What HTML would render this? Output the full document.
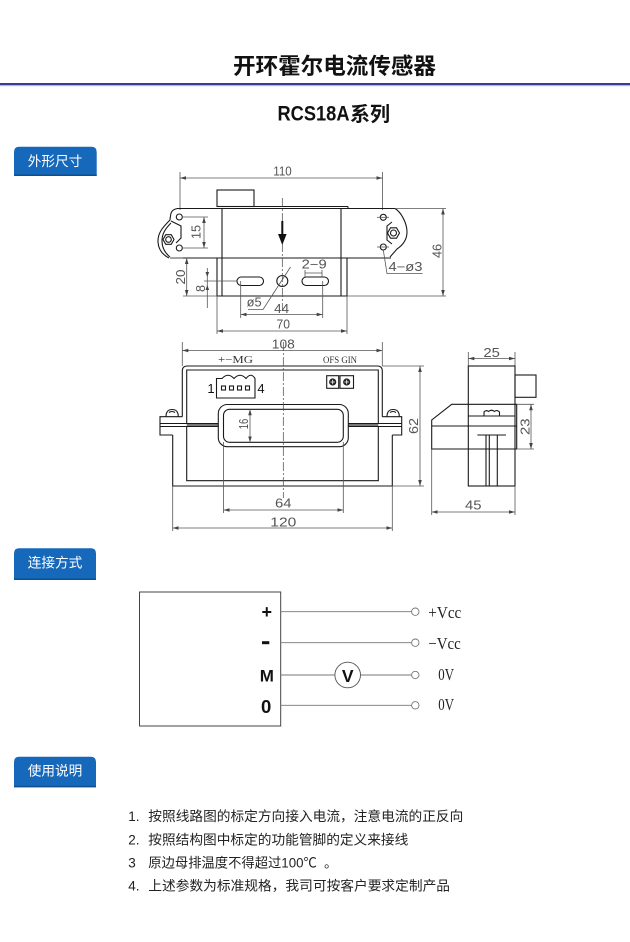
<!DOCTYPE html>
<html><head><meta charset="utf-8">
<style>
html,body{margin:0;padding:0;background:#fff;}
body{width:630px;height:942px;overflow:hidden;}
svg{display:block;}
.o{fill:none;stroke:#1a1a1a;stroke-width:1.1;}
.d{fill:none;stroke:#555;stroke-width:0.8;}
.da{fill:none;stroke:#555;stroke-width:0.8;marker-start:url(#ar);marker-end:url(#ar);}
.dt{font-family:"Liberation Sans",sans-serif;font-size:12.5px;fill:#555;}
.c{fill:none;stroke:#444;stroke-width:0.7;stroke-dasharray:9 2 2 2;}
.cj{font-family:"Liberation Sans","Noto Sans CJK SC",sans-serif;}
</style></head>
<body>
<svg width="630" height="942" viewBox="0 0 630 942" xmlns="http://www.w3.org/2000/svg">
<defs>
<marker id="ar" viewBox="0 0 10 10" refX="10" refY="5" markerUnits="userSpaceOnUse" markerWidth="6" markerHeight="6" orient="auto-start-reverse">
<path d="M0,2 L10,5 L0,8 z" fill="#444"/>
</marker>
</defs>

<!-- Header -->
<text x="233" y="74" class="cj" font-size="22.5" font-weight="bold" fill="#111" textLength="203" lengthAdjust="spacingAndGlyphs">开环霍尔电流传感器</text>
<rect x="0" y="83" width="630" height="2.2" fill="#383d96"/>
<rect x="0" y="85.2" width="630" height="1" fill="#b8badb"/>
<text x="277.5" y="120.5" font-family="Liberation Sans,sans-serif" font-size="21" font-weight="bold" fill="#111" textLength="72" lengthAdjust="spacingAndGlyphs">RCS18A</text>
<text x="350" y="121" class="cj" font-size="20" font-weight="bold" fill="#111" textLength="40" lengthAdjust="spacingAndGlyphs">系列</text>

<!-- Tabs -->
<path d="M14 176 V152 Q14 146.7 19 146.7 H91.7 Q96.7 146.7 96.7 152 V176 Z" fill="#1668ba"/>
<rect x="14" y="174.5" width="82.7" height="1.5" fill="#0f4f8e"/>
<text x="55" y="166" class="cj" font-size="13.7" fill="#fff" text-anchor="middle" textLength="54.6" lengthAdjust="spacingAndGlyphs">外形尺寸</text>

<path d="M14 580 V553.5 Q14 548.3 19 548.3 H91 Q96 548.3 96 553.5 V580 Z" fill="#1668ba"/>
<rect x="14" y="578.5" width="82" height="1.5" fill="#0f4f8e"/>
<text x="55" y="567.5" class="cj" font-size="13.7" fill="#fff" text-anchor="middle" textLength="54.6" lengthAdjust="spacingAndGlyphs">连接方式</text>

<path d="M14 787.3 V762 Q14 756.7 19 756.7 H91 Q96 756.7 96 762 V787.3 Z" fill="#1668ba"/>
<rect x="14" y="785.8" width="82" height="1.5" fill="#0f4f8e"/>
<text x="55" y="775.5" class="cj" font-size="13.7" fill="#fff" text-anchor="middle" textLength="54.6" lengthAdjust="spacingAndGlyphs">使用说明</text>

<!-- ============ TOP VIEW ============ -->
<!-- 110 dim -->
<line x1="180" y1="172" x2="180" y2="210" class="d"/>
<line x1="382.5" y1="172" x2="382.5" y2="210" class="d"/>
<line x1="180" y1="178" x2="382.5" y2="178" class="da"/>
<text x="282.5" y="175.5" class="dt" text-anchor="middle" textLength="18.5" lengthAdjust="spacingAndGlyphs">110</text>

<!-- connector box top -->
<rect x="217" y="190" width="37" height="16.5" class="o"/>
<line x1="217" y1="206.5" x2="348" y2="206.5" class="o"/>
<line x1="348" y1="206.5" x2="348" y2="208.5" class="o"/>
<line x1="177" y1="208.5" x2="395" y2="208.5" class="o"/>
<!-- body -->
<line x1="222" y1="208.5" x2="222" y2="296" class="o"/>
<line x1="341" y1="208.5" x2="341" y2="296" class="o"/>
<line x1="170" y1="258" x2="391" y2="258" class="o"/>
<line x1="217" y1="258" x2="217" y2="296" class="o"/>
<line x1="347" y1="258" x2="347" y2="296" class="o"/>
<line x1="217" y1="296" x2="347" y2="296" class="o"/>

<!-- left ear -->
<path d="M178 208.5 Q171 209 170.5 216 Q170 219 170 220 C163 227 157.5 233 158 242 C158.5 250 163 255 169 258" class="o"/>
<path d="M171 223 C165 229 162 234 162 241 C162 248 165 253 170 257" class="o" stroke-width="0.8"/>
<path d="M171 221 L181 226 L181 238 L176 243" class="o" stroke-width="0.9"/>
<circle cx="179.3" cy="217" r="3" class="o"/>
<circle cx="179.3" cy="248" r="3" class="o"/>
<polygon points="174,239.5 171.25,244.3 165.75,244.3 163,239.5 165.75,234.7 171.25,234.7" class="o"/>
<circle cx="168.5" cy="239.5" r="2.8" class="o"/>

<!-- right ear -->
<path d="M395 208.5 C401 212 407 223 407 232 C407 240 403 245 397 249 L390 257" class="o"/>
<path d="M392 222 L387 226 L387 240 L392 244" class="o" stroke-width="0.9"/>
<circle cx="383.3" cy="217.3" r="3" class="o"/>
<circle cx="383.3" cy="247" r="3" class="o"/>
<line x1="377" y1="217.3" x2="389" y2="217.3" class="d"/>
<line x1="377" y1="247" x2="389" y2="247" class="d"/>
<polygon points="399.5,233 396.5,238.2 390.5,238.2 387.5,233 390.5,227.8 396.5,227.8" class="o"/>
<circle cx="393.5" cy="233" r="3" class="o"/>

<!-- 46 dim -->
<line x1="395" y1="208.5" x2="446" y2="208.5" class="d"/>
<line x1="347" y1="296" x2="446" y2="296" class="d"/>
<line x1="443" y1="208.5" x2="443" y2="296" class="da"/>
<text x="441.5" y="251" class="dt" text-anchor="middle" transform="rotate(-90 441.5 251)" textLength="14" lengthAdjust="spacingAndGlyphs">46</text>

<!-- 15 dim -->
<line x1="182" y1="217" x2="208" y2="217" class="d"/>
<line x1="182" y1="248" x2="208" y2="248" class="d"/>
<line x1="204" y1="217" x2="204" y2="248" class="da"/>
<text x="200.5" y="232" class="dt" text-anchor="middle" transform="rotate(-90 200.5 232)" textLength="14" lengthAdjust="spacingAndGlyphs">15</text>

<!-- 20 dim -->
<line x1="183" y1="296" x2="217" y2="296" class="d"/>
<line x1="183" y1="258" x2="170" y2="258" class="d"/>
<line x1="186.7" y1="258" x2="186.7" y2="296" class="da"/>
<text x="185" y="277" class="dt" text-anchor="middle" transform="rotate(-90 185 277)" textLength="15" lengthAdjust="spacingAndGlyphs">20</text>

<!-- 8 dim -->
<line x1="204" y1="281" x2="237" y2="281" class="d"/>
<line x1="207.3" y1="268" x2="207.3" y2="308" class="d"/>
<path d="M205.5 272 L207.3 277 L209.1 272 Z M205.5 290 L207.3 285 L209.1 290 Z" fill="#444"/>
<text x="205" y="288.5" class="dt" text-anchor="middle" transform="rotate(-90 205 288.5)" textLength="7" lengthAdjust="spacingAndGlyphs">8</text>

<!-- slots and hole -->
<rect x="237" y="277" width="26.5" height="8.5" rx="4.2" class="o"/>
<rect x="302" y="277" width="26.5" height="8.5" rx="4.2" class="o"/>
<circle cx="282.3" cy="281" r="5.5" class="o"/>
<line x1="282.3" y1="198" x2="282.3" y2="310" class="c"/>
<!-- arrow -->
<line x1="282.3" y1="221" x2="282.3" y2="236" stroke="#111" stroke-width="2"/>
<path d="M278 234 L286.6 234 L282.3 245 Z" fill="#111"/>

<!-- 2-9 -->
<text x="301.7" y="268.3" class="dt" textLength="25" lengthAdjust="spacingAndGlyphs">2−9</text>
<line x1="305" y1="273" x2="322" y2="273" class="d"/>
<line x1="305" y1="270" x2="305" y2="277" class="d"/>
<line x1="322" y1="270" x2="322" y2="277" class="d"/>

<!-- phi5 -->
<text x="246.7" y="306.7" class="dt" textLength="15" lengthAdjust="spacingAndGlyphs">ø5</text>
<path d="M248 309.5 L263 309.5 L290.5 267" class="d"/>

<!-- 44 -->
<line x1="240.7" y1="281" x2="240.7" y2="318" class="d"/>
<line x1="322.7" y1="281" x2="322.7" y2="318" class="d"/>
<line x1="240.7" y1="314.5" x2="322.7" y2="314.5" class="da"/>
<text x="281.7" y="313" class="dt" text-anchor="middle" textLength="15" lengthAdjust="spacingAndGlyphs">44</text>

<!-- 70 -->
<line x1="217" y1="296" x2="217" y2="334" class="d"/>
<line x1="347" y1="296" x2="347" y2="334" class="d"/>
<line x1="217" y1="331" x2="347" y2="331" class="da"/>
<text x="283.3" y="328.3" class="dt" text-anchor="middle" textLength="13.5" lengthAdjust="spacingAndGlyphs">70</text>

<!-- 4-phi3 -->
<text x="388.5" y="271" class="dt" textLength="34" lengthAdjust="spacingAndGlyphs">4−ø3</text>
<path d="M383.3 250 L387 273.5 L422.7 273.5" class="d"/>

<!-- ============ FRONT VIEW ============ -->
<line x1="182.3" y1="342" x2="182.3" y2="366" class="d"/>
<line x1="382.3" y1="342" x2="382.3" y2="366" class="d"/>
<line x1="182.3" y1="350.5" x2="382.3" y2="350.5" class="da"/>
<text x="283.3" y="348.5" class="dt" text-anchor="middle" textLength="23" lengthAdjust="spacingAndGlyphs">108</text>

<text x="218" y="363" font-family="Liberation Serif,serif" font-size="11" fill="#333" textLength="35" lengthAdjust="spacingAndGlyphs">+−MG</text>
<text x="323" y="363" font-family="Liberation Serif,serif" font-size="9" fill="#333" textLength="34" lengthAdjust="spacingAndGlyphs">OFS GIN</text>

<!-- upper body -->
<path d="M182.3 416.7 V371 Q182.3 366 187.3 366 H377.3 Q382.3 366 382.3 371 V416.7" class="o"/>
<path d="M186.7 423.5 V370 H378.3 V423.5" class="o"/>
<!-- flanges -->
<path d="M182.3 416.7 H160 V435 H172.7" class="o"/>
<path d="M382.3 416.7 H401.7 V435 H392.3" class="o"/>
<rect x="186.7" y="423.5" width="31.6" height="3" fill="#777"/>
<rect x="348.3" y="423.5" width="30" height="3" fill="#777"/>
<line x1="160" y1="423.5" x2="218.3" y2="423.5" class="o" stroke-width="0.8"/>
<line x1="160" y1="426.5" x2="218.3" y2="426.5" class="o" stroke-width="0.8"/>
<line x1="348.3" y1="423.5" x2="401.7" y2="423.5" class="o" stroke-width="0.8"/>
<line x1="348.3" y1="426.5" x2="401.7" y2="426.5" class="o" stroke-width="0.8"/>
<!-- screws -->
<path d="M166 416.7 Q166 409.5 172.2 409.5 Q178.3 409.5 178.3 416.7" class="o"/>
<path d="M169 412.5 Q172 410.5 175 412.5" class="o" stroke-width="0.7"/>
<path d="M387 416.7 Q387 409.5 393.2 409.5 Q399.3 409.5 399.3 416.7" class="o"/>
<path d="M390 412.5 Q393 410.5 396 412.5" class="o" stroke-width="0.7"/>
<!-- lower body -->
<path d="M172.7 435 V486 H392.3 V435" class="o"/>
<path d="M186.7 426.5 V480.7 H378.3 V426.5" class="o"/>
<!-- window -->
<rect x="218.3" y="404.5" width="130" height="42.2" rx="9" class="o"/>
<rect x="223.5" y="409.3" width="119.8" height="33" rx="6" class="o"/>
<!-- connector -->
<path d="M216.5 398 V378.5 H222 Q228 372 234 378.5 Q240 372 246 378.5 Q251 372 255 378.5 V398 Z" class="o"/>
<rect x="221.5" y="386" width="4" height="4" class="o" stroke-width="0.8"/>
<rect x="229.5" y="386" width="4" height="4" class="o" stroke-width="0.8"/>
<rect x="237.5" y="386" width="4" height="4" class="o" stroke-width="0.8"/>
<rect x="245.5" y="386" width="4" height="4" class="o" stroke-width="0.8"/>
<text x="211" y="393" font-family="Liberation Sans,sans-serif" font-size="13" fill="#111" text-anchor="middle">1</text>
<text x="261" y="393" font-family="Liberation Sans,sans-serif" font-size="13" fill="#111" text-anchor="middle">4</text>
<!-- pots -->
<rect x="326.7" y="375.7" width="12" height="12.6" class="o"/>
<rect x="340" y="375.7" width="13.5" height="12.6" class="o"/>
<circle cx="332.7" cy="382" r="3.6" fill="#222"/>
<circle cx="346.7" cy="382" r="3.6" fill="#222"/>
<path d="M330.5 382 H334.9 M332.7 379.8 V384.2 M344.5 382 H348.9 M346.7 379.8 V384.2" stroke="#fff" stroke-width="0.8"/>
<!-- centerline -->
<line x1="283.3" y1="342" x2="283.3" y2="498" class="c"/>

<!-- 16 -->
<line x1="250" y1="409.3" x2="250" y2="442.3" class="da"/>
<text x="248" y="424" class="dt" text-anchor="middle" transform="rotate(-90 248 424)" textLength="10.5" lengthAdjust="spacingAndGlyphs">16</text>

<!-- 62 -->
<line x1="382.3" y1="366" x2="424" y2="366" class="d"/>
<line x1="392.3" y1="486" x2="424" y2="486" class="d"/>
<line x1="420" y1="366" x2="420" y2="486" class="da"/>
<text x="418" y="426" class="dt" text-anchor="middle" transform="rotate(-90 418 426)" textLength="16" lengthAdjust="spacingAndGlyphs">62</text>

<!-- 64 -->
<line x1="223.5" y1="442" x2="223.5" y2="513" class="d"/>
<line x1="343.3" y1="442" x2="343.3" y2="513" class="d"/>
<line x1="223.5" y1="510" x2="343.3" y2="510" class="da"/>
<text x="283.3" y="507.5" class="dt" text-anchor="middle" textLength="16.5" lengthAdjust="spacingAndGlyphs">64</text>

<!-- 120 -->
<line x1="172.7" y1="486" x2="172.7" y2="531" class="d"/>
<line x1="392.3" y1="486" x2="392.3" y2="531" class="d"/>
<line x1="172.7" y1="528" x2="392.3" y2="528" class="da"/>
<text x="283.3" y="526.5" class="dt" text-anchor="middle" textLength="26" lengthAdjust="spacingAndGlyphs">120</text>

<!-- ============ SIDE VIEW ============ -->
<line x1="468.3" y1="352" x2="468.3" y2="366" class="d"/>
<line x1="515" y1="352" x2="515" y2="366" class="d"/>
<line x1="468.3" y1="358.5" x2="515" y2="358.5" class="da"/>
<text x="491.7" y="357" class="dt" text-anchor="middle" textLength="16.5" lengthAdjust="spacingAndGlyphs">25</text>

<rect x="468.3" y="366" width="46.7" height="120" class="o"/>
<rect x="515" y="375" width="21" height="22.3" class="o"/>
<path d="M431.7 449 V420 L451.7 404.3 H516.7 V449 Z" class="o"/>
<line x1="431.7" y1="426" x2="516.7" y2="426" class="o"/>
<line x1="468.3" y1="416" x2="515" y2="416" class="o"/>
<path d="M484 416 V412 Q486 409.5 488.5 411.5 Q491.5 409 494.5 411.5 Q497 409.5 499.5 412 V416" class="o" stroke-width="0.9"/>
<line x1="477.3" y1="435" x2="506" y2="435" class="o"/>
<line x1="486" y1="435" x2="486" y2="486" class="o"/>
<line x1="489.3" y1="435" x2="489.3" y2="486" class="o" stroke-width="0.6"/>
<line x1="497.3" y1="435" x2="497.3" y2="486" class="o"/>

<!-- 23 -->
<line x1="516.7" y1="404.3" x2="534" y2="404.3" class="d"/>
<line x1="516.7" y1="449" x2="534" y2="449" class="d"/>
<line x1="531" y1="404.3" x2="531" y2="449" class="da"/>
<text x="529.5" y="426.7" class="dt" text-anchor="middle" transform="rotate(-90 529.5 426.7)" textLength="16.5" lengthAdjust="spacingAndGlyphs">23</text>

<!-- 45 -->
<line x1="431.7" y1="449" x2="431.7" y2="515" class="d"/>
<line x1="515" y1="486" x2="515" y2="515" class="d"/>
<line x1="431.7" y1="512" x2="515" y2="512" class="da"/>
<text x="473.3" y="509.5" class="dt" text-anchor="middle" textLength="16.5" lengthAdjust="spacingAndGlyphs">45</text>

<!-- ============ CONNECTION ============ -->
<rect x="139.5" y="592" width="141.2" height="134" fill="none" stroke="#444" stroke-width="1"/>
<g stroke="#777" stroke-width="0.9" fill="none">
<line x1="280.7" y1="611.7" x2="411.6" y2="611.7"/>
<line x1="280.7" y1="642.7" x2="411.6" y2="642.7"/>
<line x1="280.7" y1="675" x2="334.9" y2="675"/>
<line x1="360.5" y1="675" x2="411.6" y2="675"/>
<line x1="280.7" y1="705.3" x2="411.6" y2="705.3"/>
<circle cx="415.3" cy="611.7" r="3.7"/>
<circle cx="415.3" cy="642.7" r="3.7"/>
<circle cx="415.3" cy="675" r="3.7"/>
<circle cx="415.3" cy="705.3" r="3.7"/>
<circle cx="347.7" cy="675" r="12.8" stroke="#555"/>
</g>
<text x="347.7" y="682" font-family="Liberation Sans,sans-serif" font-size="17.5" font-weight="bold" fill="#111" text-anchor="middle">V</text>
<text x="266.7" y="618" font-family="Liberation Sans,sans-serif" font-size="18" font-weight="bold" fill="#111" text-anchor="middle">+</text>
<rect x="262" y="641.2" width="7.3" height="3" fill="#111"/>
<text x="266.8" y="681.7" font-family="Liberation Sans,sans-serif" font-size="17" font-weight="bold" fill="#111" text-anchor="middle">M</text>
<text x="266.2" y="712.8" font-family="Liberation Sans,sans-serif" font-size="18.5" font-weight="bold" fill="#111" text-anchor="middle">0</text>

<g font-family="Liberation Serif,serif" font-size="17" fill="#222">
<text x="428.3" y="618" textLength="33" lengthAdjust="spacingAndGlyphs">+Vcc</text>
<text x="428.3" y="649" textLength="32.5" lengthAdjust="spacingAndGlyphs">−Vcc</text>
<text x="438.3" y="680" textLength="15.7" lengthAdjust="spacingAndGlyphs">0V</text>
<text x="438.3" y="710" textLength="15.7" lengthAdjust="spacingAndGlyphs">0V</text>
</g>

<!-- ============ INSTRUCTIONS ============ -->
<g class="cj" font-size="13.5" fill="#222">
<text x="128.3" y="821">1.</text>
<text x="148.3" y="821" textLength="315" lengthAdjust="spacingAndGlyphs">按照线路图的标定方向接入电流，注意电流的正反向</text>
<text x="128.3" y="844.5">2.</text>
<text x="148.3" y="844.5" textLength="260" lengthAdjust="spacingAndGlyphs">按照结构图中标定的功能管脚的定义来接线</text>
<text x="128.3" y="867.5">3</text>
<text x="148.3" y="867.5" textLength="168.5" lengthAdjust="spacingAndGlyphs">原边母排温度不得超过100℃</text>
<text x="324" y="867.5">。</text>
<text x="128.3" y="890.5">4.</text>
<text x="148.3" y="890.5" textLength="301.7" lengthAdjust="spacingAndGlyphs">上述参数为标准规格，我司可按客户要求定制产品</text>
</g>
</svg>
</body></html>
